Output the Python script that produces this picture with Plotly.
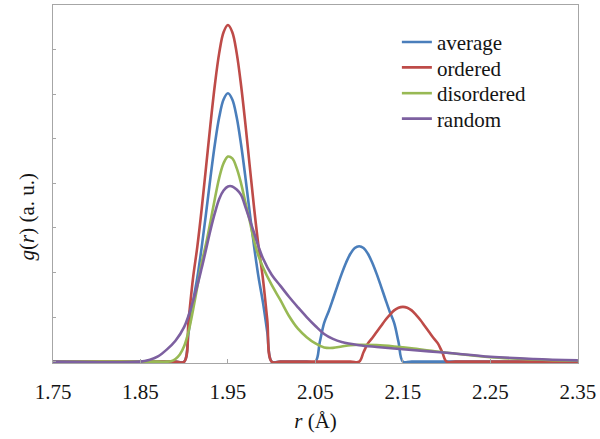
import plotly.graph_objects as go

# Radial distribution curves g(r) for four configurations (arbitrary units)
r_average = [1.75, 1.89, 1.90, 1.905, 1.91, 1.915, 1.92, 1.925, 1.93, 1.935, 1.94, 1.945,
             1.95, 1.955, 1.96, 1.965, 1.97, 1.975, 1.98, 1.985, 1.99, 1.995, 2.00,
             2.01, 2.04, 2.05, 2.055, 2.06, 2.065, 2.07, 2.075, 2.08, 2.085, 2.09, 2.095,
             2.10, 2.105, 2.11, 2.115, 2.12, 2.125, 2.13, 2.135, 2.14, 2.145, 2.15,
             2.16, 2.35]
g_average = [0, 0, 0, 0.66, 1.33, 1.89, 2.57, 3.33, 4.13, 4.87, 5.48, 5.88,
             6.02, 5.88, 5.48, 4.87, 4.13, 3.33, 2.57, 1.89, 1.33, 0.66, 0,
             0, 0, 0, 0.44, 0.87, 1.12, 1.40, 1.69, 1.97, 2.22, 2.42, 2.55,
             2.59, 2.55, 2.42, 2.22, 1.97, 1.69, 1.40, 1.12, 0.87, 0.44, 0,
             0, 0]

r_ordered = [1.75, 1.89, 1.90, 1.905, 1.91, 1.915, 1.92, 1.925, 1.93, 1.935, 1.94, 1.945,
             1.95, 1.955, 1.96, 1.965, 1.97, 1.975, 1.98, 1.985, 1.99, 1.995, 2.00,
             2.01, 2.09, 2.10, 2.105, 2.11, 2.115, 2.12, 2.125, 2.13, 2.135, 2.14, 2.145,
             2.15, 2.155, 2.16, 2.165, 2.17, 2.175, 2.18, 2.185, 2.19, 2.195, 2.20,
             2.21, 2.35]
g_ordered = [0, 0, 0, 0.93, 1.86, 2.58, 3.43, 4.37, 5.32, 6.20, 6.92, 7.39,
             7.55, 7.39, 6.92, 6.20, 5.32, 4.37, 3.43, 2.58, 1.86, 0.93, 0,
             0, 0, 0, 0.21, 0.41, 0.53, 0.665, 0.80, 0.935, 1.05, 1.15, 1.21,
             1.23, 1.21, 1.15, 1.05, 0.935, 0.80, 0.665, 0.53, 0.41, 0.21, 0,
             0, 0]

r_disordered = [1.75, 1.87, 1.88, 1.885, 1.89, 1.895, 1.90, 1.905, 1.91, 1.915, 1.92,
                1.925, 1.93, 1.935, 1.94, 1.945, 1.95, 1.955, 1.96, 1.965, 1.97, 1.975,
                1.98, 1.985, 1.99, 2.00, 2.01, 2.02, 2.03, 2.04, 2.05, 2.06, 2.07, 2.08,
                2.09, 2.10, 2.12, 2.14, 2.16, 2.18, 2.20, 2.25, 2.30, 2.35]
g_disordered = [0, 0, 0, 0.01, 0.06, 0.16, 0.35, 0.68, 1.15, 1.68, 2.22,
                2.65, 3.14, 3.65, 4.12, 4.45, 4.60, 4.56, 4.34, 4.00, 3.57, 3.15,
                2.70, 2.37, 2.12, 1.72, 1.38, 1.02, 0.74, 0.55, 0.41, 0.32, 0.31, 0.34,
                0.37, 0.38, 0.37, 0.34, 0.30, 0.25, 0.20, 0.10, 0.05, 0.02]

r_random = [1.75, 1.85, 1.86, 1.87, 1.88, 1.89, 1.90, 1.91, 1.92, 1.93, 1.935, 1.94,
            1.945, 1.95, 1.955, 1.96, 1.965, 1.97, 1.975, 1.98, 1.985, 1.99, 2.00,
            2.01, 2.02, 2.03, 2.04, 2.05, 2.06, 2.07, 2.08, 2.10, 2.12, 2.15, 2.18,
            2.20, 2.25, 2.30, 2.35]
g_random = [0, 0, 0.04, 0.12, 0.27, 0.47, 0.78, 1.35, 2.10, 2.95, 3.33, 3.65,
            3.84, 3.93, 3.93, 3.86, 3.74, 3.47, 3.18, 2.88, 2.58, 2.32, 1.95,
            1.70, 1.45, 1.22, 1.00, 0.80, 0.62, 0.51, 0.44, 0.37, 0.33, 0.28, 0.23,
            0.20, 0.11, 0.06, 0.03]

x_ticks = [1.75, 1.85, 1.95, 2.05, 2.15, 2.25, 2.35]
x_tick_labels = ["1.75", "1.85", "1.95", "2.05", "2.15", "2.25", "2.35"]

series = [
    ("average", r_average, g_average, "#4a7ebb"),
    ("ordered", r_ordered, g_ordered, "#be4b48"),
    ("disordered", r_disordered, g_disordered, "#98b954"),
    ("random", r_random, g_random, "#7d60a0"),
]

FONT = '"Liberation Serif", "Times New Roman", "DejaVu Serif", serif'
TEXT = "#141414"
AXIS_GREY = "#a6a6a6"

# one small legend per entry so the rows can sit closer than the default spacing
legend_ids = ["legend", "legend2", "legend3", "legend4"]
legend_tops = [0.953, 0.882, 0.810, 0.739]

fig = go.Figure()
for (name, r, g, color), lid in zip(series, legend_ids):
    fig.add_trace(go.Scatter(
        x=r, y=g, name=name, mode="lines", legend=lid,
        line=dict(color=color, width=2.6, shape="spline", smoothing=1.0),
    ))

legend_style = dict(
    x=0.655, xanchor="left", yanchor="top",
    bgcolor="rgba(0,0,0,0)", borderwidth=0,
    font=dict(family=FONT, size=21, color=TEXT),
    itemwidth=30,
)

fig.update_layout(
    width=600, height=439,
    margin=dict(l=53, r=18, t=4, b=76),
    paper_bgcolor="white", plot_bgcolor="white",
    font=dict(family=FONT, size=21, color=TEXT),
    showlegend=True,
    **{lid: dict(legend_style, y=top) for lid, top in zip(legend_ids, legend_tops)},
    annotations=[dict(
        text="<i>g</i>(<i>r</i>) (a. u.)", textangle=-90,
        xref="paper", yref="paper", x=-0.049, y=0.41,
        xanchor="center", yanchor="middle", showarrow=False,
        font=dict(family=FONT, size=21, color=TEXT),
    )],
)

fig.update_xaxes(
    range=[1.75, 2.3502], tickvals=x_ticks, ticktext=x_tick_labels,
    showgrid=False, zeroline=False,
    showline=True, linecolor=AXIS_GREY, linewidth=1, mirror=True,
    ticks="inside", ticklen=4, tickcolor=AXIS_GREY, tickwidth=1,
    ticklabelstandoff=10, ticklabeloverflow="allow",
    tickfont=dict(family=FONT, size=21, color=TEXT),
    title=dict(text="<i>r</i> (Å)", standoff=10,
               font=dict(family=FONT, size=21, color=TEXT)),
)

fig.update_yaxes(
    range=[-0.03, 8], tickvals=[0, 1, 2, 3, 4, 5, 6, 7, 8], showticklabels=False,
    showgrid=False, zeroline=False,
    showline=True, linecolor=AXIS_GREY, linewidth=1, mirror=True,
    ticks="inside", ticklen=3, tickcolor=AXIS_GREY, tickwidth=1,
)

fig.write_html("out.html")
